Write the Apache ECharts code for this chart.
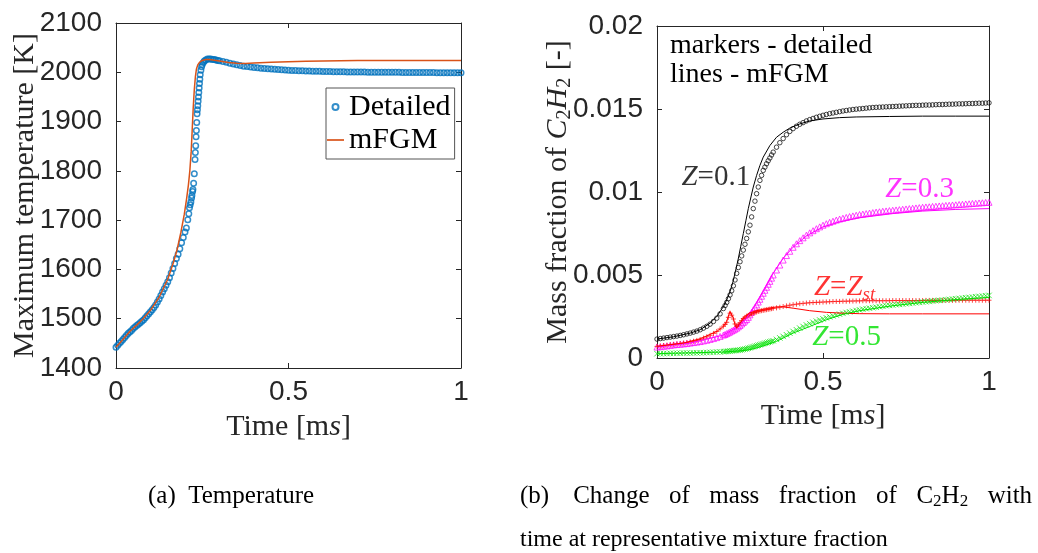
<!DOCTYPE html>
<html><head><meta charset="utf-8">
<script src="https://cdn.jsdelivr.net/npm/echarts@6/dist/echarts.min.js"></script>
<style>html,body{margin:0;padding:0;background:#fff;}#c{width:1038px;height:553px;}</style>
</head><body><div id="c"></div>
<script>
// ---------- (a) Temperature ----------
const tempDetT = [0,0.005,0.01,0.015,0.02,0.025,0.03,0.035,0.04,0.045,0.05,0.055,0.06,0.065,0.07,0.075,0.08,0.085,0.09,0.095,0.1,0.105,0.11,0.115,0.12,0.125,0.13,0.135,0.14,0.145,0.15,0.155,0.16,0.165,0.17,0.175,0.18,0.185,0.19,0.195,0.2,
0.204,0.208,0.211,0.213,0.215,0.217,0.219,0.22,0.222,0.223,0.225,0.227,0.229,0.23,0.231,0.232,0.233,0.234,0.235,0.236,0.237,0.238,0.239,0.24,0.241,0.242,0.243,0.244,0.246,0.248,0.25,0.253,0.256,0.26,0.265,0.27,0.275,0.28,0.285,0.29,0.295,0.3,
0.31,0.32,0.33,0.34,0.35,0.36,0.37,0.38,0.39,0.4,0.41,0.42,0.43,0.44,0.45,0.46,0.47,0.48,0.49,0.5,0.51,0.52,0.53,0.54,0.55,0.56,0.57,0.58,0.59,0.6,0.61,0.62,0.63,0.64,0.65,0.66,0.67,0.68,0.69,0.7,0.71,0.72,0.73,0.74,0.75,0.76,0.77,0.78,0.79,0.8,0.81,0.82,0.83,0.84,0.85,0.86,0.87,0.88,0.89,0.9,0.91,0.92,0.93,0.94,0.95,0.96,0.97,0.98,0.99,1.0];
const tempDetailed = [1442,1446,1450,1454,1458,1462,1466,1470,1473,1476,1480,1483,1486,1489,1492,1495,1498,1502,1506,1510,1514,1518,1523,1528,1534,1540,1547,1554,1561,1568,1575,1583,1593,1602,1612,1622,1631,1642,1654,1665,1676,
1684,1701,1713,1725,1731,1737,1745,1750,1758,1762,1775,1794,1823,1837,1851,1869,1882,1898,1916,1924,1932,1941,1950,1959,1968,1977,1986,1995,2004,2011,2016,2020,2023,2025,2027,2027,2027,2026,2026,2025,2024,2023.5,
2022,2020.5,2018.5,2017,2015.5,2014,2012.5,2011.5,2010.5,2009.5,2009,2008,2007.5,2007,2006.5,2006,2005.5,2005,2004.5,2004,2003.5,2003.5,2003,2003,2002.5,2002.5,2002,2002,2002,2001.5,2001.5,2001.5,2001,2001,2001,2001,2000.5,2000.5,2000.5,2000.5,2000.5,2000.5,2000,2000,2000,2000,2000,2000,2000,2000,2000,2000,1999.5,1999.5,1999.5,1999.5,1999.5,1999.5,1999.5,1999.5,1999.5,1999.5,1999,1999,1999,1999,1999,1999,1999,1999];
const tempMfgm = [[0,1442],[0.02,1458],[0.04,1474],[0.06,1487],[0.08,1501],[0.1,1517],[0.126,1545],[0.15,1580],[0.166,1613],[0.177,1640],[0.188,1675],[0.198,1712],[0.205,1745],[0.21,1772],[0.214,1800],[0.218,1840],[0.221,1885],[0.224,1930],[0.227,1965],[0.23,1990],[0.233,2006],[0.237,2015],[0.242,2020],[0.25,2024],[0.26,2026],[0.27,2026],[0.28,2025],[0.3,2023],[0.326,2020],[0.35,2018.5],[0.375,2018],[0.4,2019],[0.45,2020.5],[0.5,2021.5],[0.55,2022.5],[0.6,2023],[0.7,2024],[0.8,2024],[0.9,2024],[1,2024]];

// ---------- (b) C2H2 mass fraction ----------
const tMarkers = [0,0.01,0.02,0.03,0.04,0.05,0.06,0.07,0.08,0.09,0.1,0.11,0.12,0.13,0.14,0.15,0.16,0.17,0.18,0.19,0.2,
0.205,0.21,0.215,0.22,0.225,0.23,0.235,0.24,0.245,0.25,0.255,0.26,0.265,0.27,0.275,0.28,0.285,0.29,0.295,0.3,0.305,0.31,0.315,0.32,0.325,0.33,0.335,0.34,0.345,0.35,
0.36,0.37,0.38,0.39,0.4,0.41,0.42,0.43,0.44,0.45,0.46,0.47,0.48,0.49,0.5,0.51,0.52,0.53,0.54,0.55,0.56,0.57,0.58,0.59,0.6,0.61,0.62,0.63,0.64,0.65,0.66,0.67,0.68,0.69,0.7,0.71,0.72,0.73,0.74,0.75,0.76,0.77,0.78,0.79,0.8,0.81,0.82,0.83,0.84,0.85,0.86,0.87,0.88,0.89,0.9,0.91,0.92,0.93,0.94,0.95,0.96,0.97,0.98,0.99,1.0];
const z01Detailed = [.00114,.00117,.00120,.00123,.00126,.00129,.00132,.00136,.00140,.00145,.00150,.00156,.00162,.00170,.00180,.00191,.00204,.00220,.00240,.00266,.00298,
.00316,.00335,.00357,.00380,.00405,.00435,.00470,.00510,.00545,.00580,.00615,.00650,.00685,.00720,.00760,.00800,.00850,.00900,.00945,.00990,.01030,.01070,.01100,.01130,.01150,.01170,.01188,.01205,.01223,.01240,
.01270,.01297,.01322,.01345,.01365,.01382,.01396,.01408,.01418,.01428,.01436,.01443,.01450,.01456,.01462,.01467,.01472,.01476,.01480,.01484,.01488,.01491,.01494,.01497,.01499,.01501,.01503,.01505,.01507,.01509,.01510,.01511,.01512,.01513,.01514,.01515,.01516,.01517,.01518,.01519,.01520,.01521,.01522,.01522,.01523,.01524,.01524,.01525,.01526,.01527,.01527,.01528,.01529,.01529,.01530,.01531,.01531,.01532,.01533,.01533,.01534,.01535,.01535,.01536,.01537];
const z03Detailed = [.00066,.00068,.00071,.00073,.00076,.00079,.00081,.00083,.00085,.00087,.00090,.00093,.00096,.00099,.00103,.00107,.00112,.00117,.00123,.00130,.00138,
.00142,.00147,.00152,.00157,.00163,.00168,.00174,.00180,.00188,.00196,.00205,.00214,.00223,.00232,.00245,.00260,.00275,.00290,.00305,.00320,.00337,.00354,.00372,.00390,.00408,.00426,.00444,.00462,.00481,.00500,
.00530,.00560,.00590,.00617,.00643,.00667,.00688,.00707,.00724,.00740,.00754,.00767,.00779,.00790,.00800,.00809,.00817,.00824,.00831,.00837,.00842,.00847,.00852,.00856,.00860,.00864,.00867,.00870,.00873,.00876,.00879,.00881,.00884,.00886,.00888,.00890,.00892,.00894,.00896,.00898,.00900,.00902,.00904,.00906,.00908,.00910,.00911,.00913,.00914,.00916,.00917,.00919,.00920,.00922,.00923,.00925,.00926,.00928,.00929,.00931,.00932,.00934,.00935,.00937,.00938];
const zstDetailed = [.00070,.00072,.00075,.00077,.00080,.00082,.00085,.00087,.00090,.00093,.00097,.00101,.00106,.00112,.00120,.00128,.00137,.00148,.00160,.00175,.00192,
.00202,.00215,.00245,.00270,.00258,.00235,.00205,.00192,.00200,.00212,.00225,.00238,.00245,.00252,.00257,.00262,.00266,.00270,.00274,.00277,.00280,.00283,.00285,.00287,.00289,.00291,.00293,.00295,.00297,.00299,
.00302,.00306,.00310,.00314,.00318,.00321,.00324,.00327,.00329,.00331,.00333,.00334,.00335,.00336,.00337,.00338,.00339,.00340,.00341,.00341,.00342,.00342,.00343,.00343,.00344,.00344,.00345,.00345,.00345,.00345,.00345,.00345,.00345,.00345,.00345,.00346,.00346,.00346,.00346,.00346,.00346,.00346,.00346,.00346,.00346,.00347,.00347,.00347,.00347,.00347,.00347,.00347,.00347,.00347,.00347,.00348,.00348,.00348,.00348,.00348,.00348,.00348,.00348,.00348,.00348];
const z05Detailed = [.00026,.00026,.00027,.00027,.00028,.00028,.00029,.00029,.00030,.00030,.00030,.00031,.00031,.00032,.00032,.00033,.00034,.00035,.00036,.00037,.00038,
.00039,.00040,.00041,.00042,.00043,.00044,.00045,.00046,.00047,.00048,.00050,.00052,.00054,.00056,.00059,.00062,.00065,.00068,.00071,.00074,.00077,.00080,.00083,.00086,.00089,.00092,.00095,.00098,.00101,.00104,
.00112,.00121,.00130,.00140,.00150,.00160,.00170,.00180,.00190,.00199,.00207,.00215,.00222,.00229,.00236,.00242,.00248,.00254,.00259,.00264,.00269,.00274,.00278,.00282,.00286,.00290,.00294,.00297,.00300,.00303,.00306,.00309,.00312,.00315,.00317,.00319,.00321,.00323,.00325,.00327,.00329,.00331,.00333,.00335,.00337,.00339,.00341,.00343,.00345,.00347,.00349,.00351,.00353,.00355,.00357,.00359,.00361,.00363,.00365,.00367,.00369,.00371,.00373,.00375,.00377];
const z01Mfgm = [[0,.00114],[.05,.00128],[.1,.0015],[.13,.0017],[.16,.0021],[.18,.0025],[.2,.0031],[.21,.0035],[.22,.0040],[.229,.0046],[.236,.0052],[.244,.0059],[.252,.0067],[.26,.0075],[.268,.0083],[.275,.0090],[.283,.0097],[.29,.0103],[.30,.0110],[.31,.0116],[.32,.0121],[.34,.0128],[.36,.0133],[.38,.0136],[.40,.01385],[.43,.0141],[.46,.01428],[.50,.0144],[.55,.01448],[.6,.01452],[.7,.01455],[.8,.01457],[.9,.01457],[1,.01457]];
const z03Mfgm = [[0,.00066],[.1,.0009],[.2,.00138],[.24,.00185],[.27,.0024],[.29,.003],[.32,.0040],[.35,.0051],[.38,.006],[.41,.00668],[.45,.00735],[.5,.0079],[.55,.0082],[.61,.00845],[.71,.0087],[.8,.00885],[.9,.00895],[1,.009]];
const zstMfgm = [[0,.0007],[.08,.0009],[.13,.00116],[.18,.0016],[.2,.0019],[.21,.0022],[.216,.0026],[.22,.0028],[.225,.0027],[.23,.0024],[.235,.0020],[.24,.0018],[.245,.0019],[.25,.0021],[.26,.0024],[.27,.0026],[.28,.00272],[.3,.00285],[.33,.00298],[.36,.00308],[.38,.00308],[.41,.003],[.46,.00285],[.51,.00275],[.56,.0027],[.61,.00267],[.7,.00266],[.8,.00266],[1,.00266]];
const z05Mfgm = [[0,.00026],[.2,.00036],[.25,.00043],[.28,.0005],[.31,.00066],[.36,.001],[.41,.0015],[.46,.0019],[.51,.0023],[.56,.00263],[.61,.00285],[.71,.00315],[.8,.00335],[.9,.00352],[1,.00365]];
// annotation anchors (time, mass fraction)
const zLabelPos = [[0.177,0.01087],[0.791,0.01018],[0.565,0.00423],[0.571,0.00125]];

const SERIF = '"Liberation Serif", "DejaVu Serif", serif';
const SANS = '"Liberation Sans", Arial, sans-serif';
const AX = '#262626';
const zip = (ts, vs) => ts.map((t, i) => [t, vs[i]]);

function xAx(grid, pos, name, gap) {
  return {
    type: 'value', gridIndex: grid, position: pos, min: 0, max: 1, interval: 0.5,
    axisLine: {show: true, onZero: false, lineStyle: {color: AX, width: 1}},
    axisTick: {show: true, inside: true, length: 5, lineStyle: {color: AX}},
    axisLabel: {show: pos === 'bottom', fontFamily: SANS, fontSize: 28, color: AX, margin: 10, formatter: v => String(v)},
    splitLine: {show: false},
    name: pos === 'bottom' ? name : '', nameLocation: 'middle', nameGap: gap,
    nameTextStyle: {fontFamily: SERIF, fontSize: 30, color: AX,
      rich: {t: {fontFamily: SERIF, fontSize: 30, color: AX}, i: {fontFamily: SERIF, fontSize: 30, fontStyle: 'italic', color: AX}}}
  };
}
function yAx(grid, pos, min, max, interval, name, gap) {
  return {
    type: 'value', gridIndex: grid, position: pos, min: min, max: max, interval: interval,
    axisLine: {show: true, onZero: false, lineStyle: {color: AX, width: 1}},
    axisTick: {show: true, inside: true, length: 5, lineStyle: {color: AX}},
    axisLabel: {show: pos === 'left', fontFamily: SANS, fontSize: 28, color: AX, margin: 14, formatter: v => String(v)},
    splitLine: {show: false},
    name: pos === 'left' ? name : '', nameLocation: 'middle', nameGap: gap, nameRotate: 90,
    nameMoveOverlap: false,
    nameTextStyle: {fontFamily: SERIF, fontSize: 30, color: AX,
      rich: {t: {fontFamily: SERIF, fontSize: 30, color: AX},
             i: {fontFamily: SERIF, fontSize: 30, fontStyle: 'italic', color: AX},
             s: {fontFamily: SERIF, fontSize: 20, color: AX, padding: [14, 0, 0, 0]}}}
  };
}
const timeName = '{t|Time [m}{i|s}{t|]}';

function markerSeries(name, data, symbol, size, color) {
  return {
    name: name, type: 'scatter', xAxisIndex: 2, yAxisIndex: 2, data: data,
    symbol: symbol, symbolSize: size, silent: true,
    itemStyle: {color: 'transparent', borderColor: color, borderWidth: 0.9}, z: 3
  };
}
function lineSeries(name, data, color) {
  return {
    name: name, type: 'line', xAxisIndex: 2, yAxisIndex: 2, data: data,
    symbol: 'none', showSymbol: false, silent: true,
    lineStyle: {color: color, width: 1}, itemStyle: {color: color}, z: 4
  };
}
const labRich = {
  i: {fontFamily: SERIF, fontSize: 29, fontStyle: 'italic'},
  n: {fontFamily: SERIF, fontSize: 29},
  s: {fontFamily: SERIF, fontSize: 19, fontStyle: 'italic', padding: [14, 0, 0, 0]}
};
const zLabels = [
  {text: '{i|Z}{n|=0.1}', color: '#000000'},
  {text: '{i|Z}{n|=0.3}', color: '#ff00ff'},
  {text: '{i|Z}{n|=}{i|Z}{s|st}', color: '#ff0000'},
  {text: '{i|Z}{n|=0.5}', color: '#00e000'}
];

const chart = echarts.init(document.getElementById('c'));
chart.setOption({
  backgroundColor: '#ffffff',
  animation: false,
  grid: [
    {left: 116, top: 23, width: 345, height: 345, containLabel: false},
    {left: 657, top: 26, width: 332, height: 332, containLabel: false}
  ],
  xAxis: [xAx(0, 'bottom', timeName, 44), xAx(0, 'top', '', 0), xAx(1, 'bottom', timeName, 39), xAx(1, 'top', '', 0)],
  yAxis: [
    yAx(0, 'left', 1400, 2100, 100, 'Maximum temperature [K]', 76),
    yAx(0, 'right', 1400, 2100, 100, '', 0),
    yAx(1, 'left', 0, 0.02, 0.005, '{t|Mass fraction of }{i|C}{s|2}{i|H}{s|2}{t| [-]}', 82),
    yAx(1, 'right', 0, 0.02, 0.005, '', 0)
  ],
  legend: {
    data: [{name: 'Detailed', icon: 'circle'},
           {name: 'mFGM', icon: 'path://M0,0L16,0L16,1.6L0,1.6Z', itemStyle: {color: '#D95319', borderWidth: 0}}],
    orient: 'vertical', left: 326, top: 88, padding: [4, 4, 4, 1],
    itemWidth: 17, itemHeight: 6, itemGap: 3,
    borderColor: '#555555', borderWidth: 1, backgroundColor: '#ffffff',
    textStyle: {fontFamily: SERIF, fontSize: 30, color: '#000', lineHeight: 30},
    selectedMode: false
  },
  series: [
    {name: 'Detailed', type: 'scatter', xAxisIndex: 0, yAxisIndex: 0, data: zip(tempDetT, tempDetailed),
     symbol: 'circle', symbolSize: 5.5, silent: true,
     itemStyle: {color: 'transparent', borderColor: '#0072BD', borderWidth: 1.5}, z: 3},
    {name: 'mFGM', type: 'line', xAxisIndex: 0, yAxisIndex: 0, data: tempMfgm,
     symbol: 'none', showSymbol: false, silent: true,
     lineStyle: {color: '#D95319', width: 1.5}, itemStyle: {color: '#D95319'}, z: 4},
    markerSeries('Z=0.1 detailed', zip(tMarkers, z01Detailed), 'circle', 4.5, '#000000'),
    markerSeries('Z=0.3 detailed', zip(tMarkers, z03Detailed), 'triangle', 6, '#ff00ff'),
    markerSeries('Z=Zst detailed', zip(tMarkers, zstDetailed), 'path://M5,0L5,10M0,5L10,5', 5, '#ff0000'),
    markerSeries('Z=0.5 detailed', zip(tMarkers, z05Detailed), 'path://M0,0L10,10M10,0L0,10', 5.5, '#00e000'),
    lineSeries('Z=0.1 mFGM', z01Mfgm, '#000000'),
    lineSeries('Z=0.3 mFGM', z03Mfgm, '#ff00ff'),
    lineSeries('Z=Zst mFGM', zstMfgm, '#ff0000'),
    lineSeries('Z=0.5 mFGM', z05Mfgm, '#00e000'),
    {name: 'labels', type: 'scatter', xAxisIndex: 2, yAxisIndex: 2, silent: true, z: 10,
     symbolSize: 0, itemStyle: {color: 'transparent'},
     data: zLabelPos.map((p, k) => ({value: p,
       label: {show: true, position: 'inside', formatter: zLabels[k].text, color: zLabels[k].color, rich: labRich}}))}
  ],
  graphic: [
    {type: 'text', left: 670, top: 31, z: 20, silent: true,
     style: {text: 'markers - detailed\nlines - mFGM', font: '28px ' + SERIF, fill: '#000', lineHeight: 29}},
    {type: 'text', left: 148, top: 484, silent: true,
     style: {text: '(a)  Temperature', font: '25px ' + SERIF, fill: '#000'}},
    {type: 'text', left: 520, top: 484, silent: true,
     style: {text: '(b){g2| }Change{g| }of{g| }mass{g| }fraction{g| }of{g| }C{s|2}H{s|2}{g| }with', font: '25px ' + SERIF, fill: '#000',
       rich: {s: {fontFamily: SERIF, fontSize: 17, padding: [10, 0, 0, 0]},
              g: {fontFamily: SERIF, fontSize: 25, width: 19.5},
              g2: {fontFamily: SERIF, fontSize: 25, width: 24}}}},
    {type: 'text', left: 520, top: 528, silent: true,
     style: {text: 'time at representative mixture fraction', font: '24px ' + SERIF, fill: '#000'}}
  ]
});
</script></body></html>
